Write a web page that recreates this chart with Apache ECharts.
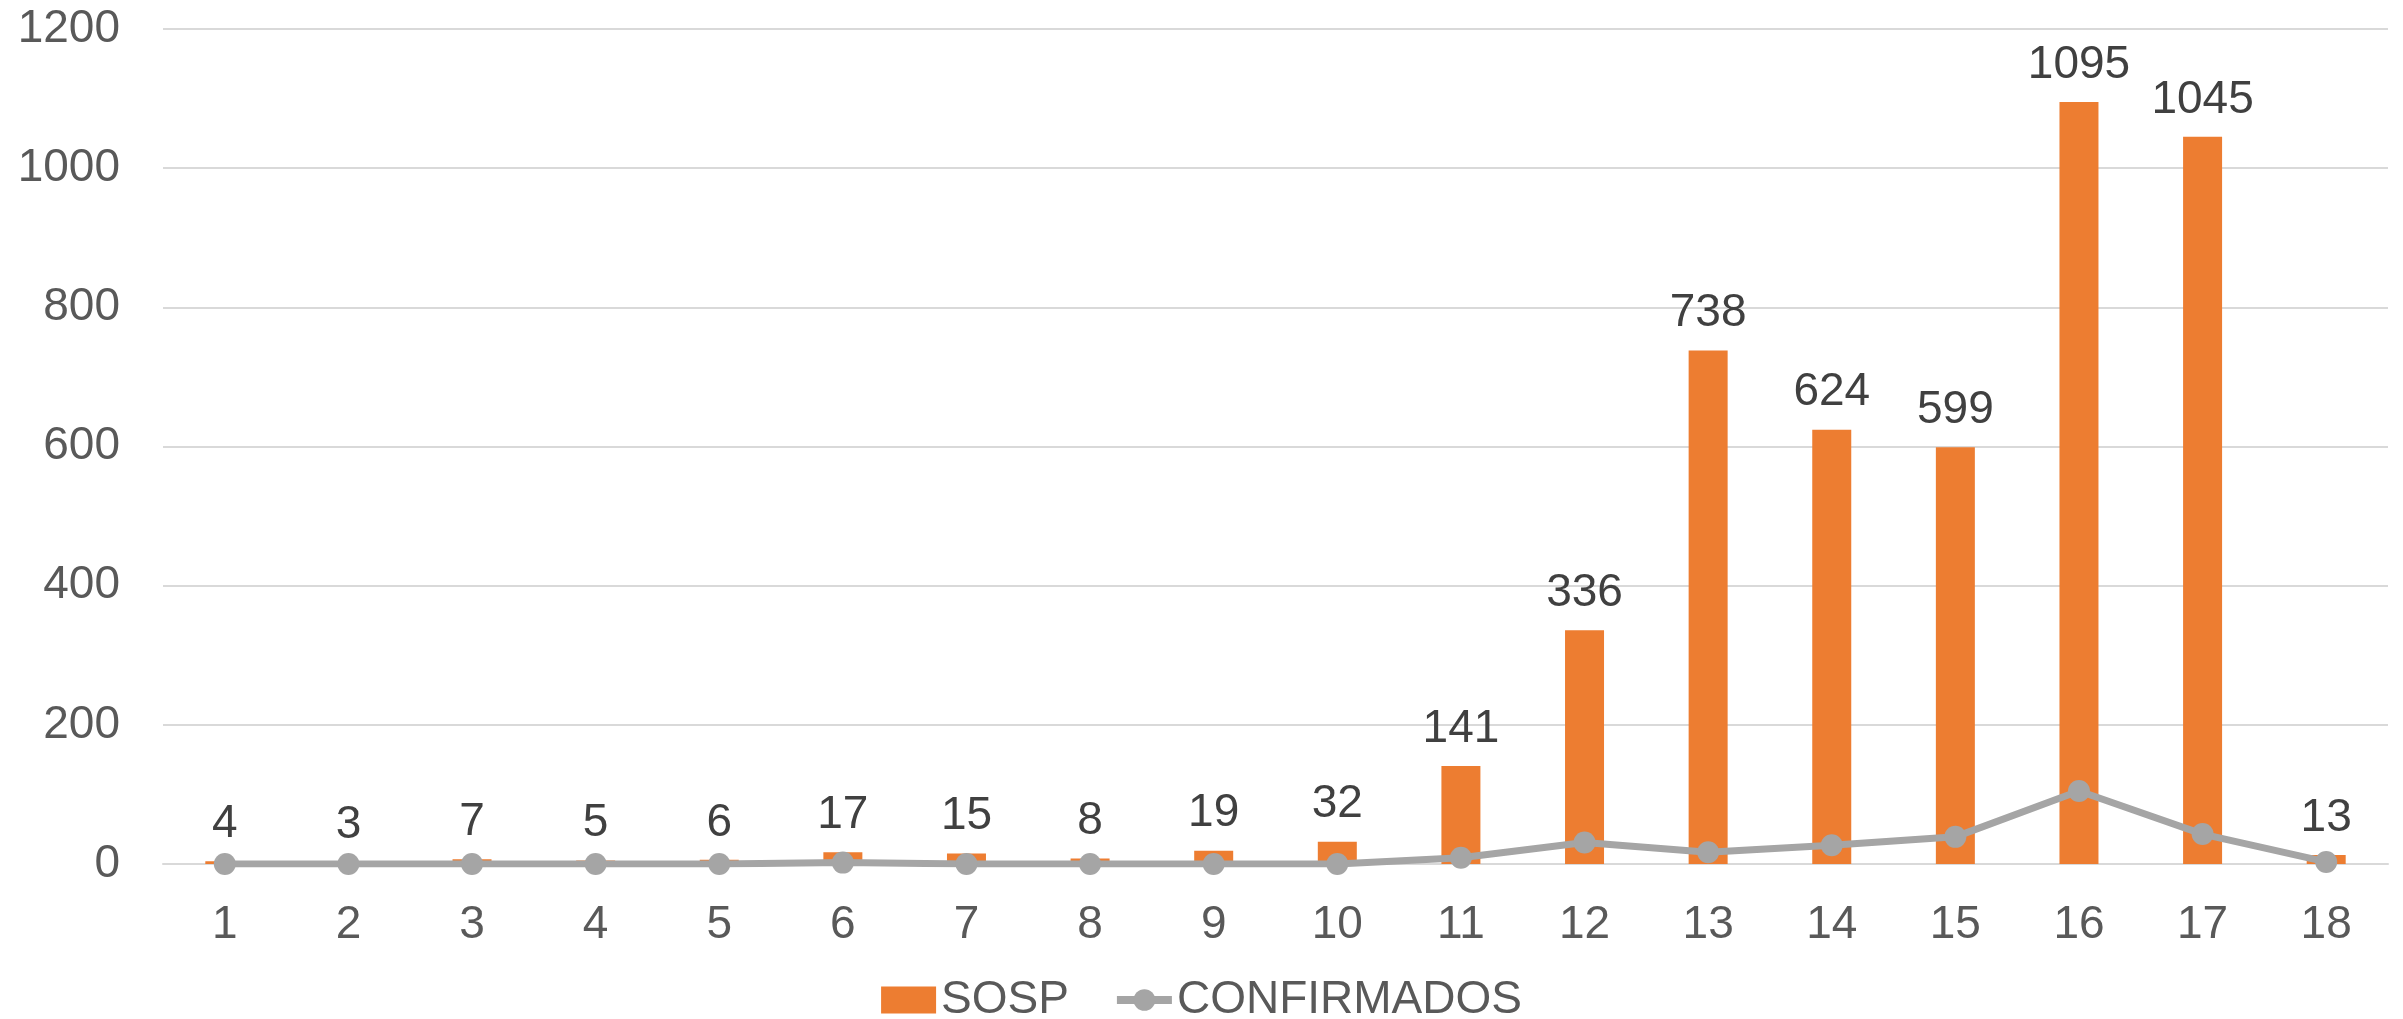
<!DOCTYPE html>
<html>
<head>
<meta charset="utf-8">
<script src="https://cdn.jsdelivr.net/npm/echarts@6/dist/echarts.min.js"></script>
<style>
  html, body { margin: 0; padding: 0; background: #fff; }
  #chart { width: 2403px; height: 1019px; }
</style>
</head>
<body>
<div id="chart"></div>
<script>
const categories = ["1", "2", "3", "4", "5", "6", "7", "8", "9", "10", "11", "12", "13", "14", "15", "16", "17", "18"];
const sospValues = [4, 3, 7, 5, 6, 17, 15, 8, 19, 32, 141, 336, 738, 624, 599, 1095, 1045, 13];
const confirmadosValues = [0, 0, 0, 0, 0, 2, 0, 0, 0, 0, 9, 31, 17, 27, 39, 105, 43, 3];

const chart = echarts.init(document.getElementById("chart"));

const font = "'Liberation Sans', Arial, sans-serif";

chart.setOption({
  animation: false,
  textStyle: { fontFamily: font },
  grid: {
    left: 163,
    right: 15,
    top: 29,
    bottom: 155,
    containLabel: false,
    outerBoundsMode: "none",
  },
  legend: {
    top: 972,
    left: "center",
    itemGap: 44,
    itemWidth: 55,
    itemHeight: 27,
    textStyle: { fontSize: 46, color: "#595959", fontFamily: font },
    data: [
      { name: "SOSP", icon: "rect", itemStyle: { color: "#ED7D31" } },
      { name: "CONFIRMADOS", lineStyle: { width: 8, color: "#A5A5A5" } },
    ],
  },
  xAxis: {
    type: "category",
    data: categories,
    axisLine: { lineStyle: { color: "#D9D9D9", width: 2 } },
    axisTick: { show: false },
    axisLabel: { fontSize: 46, color: "#595959", margin: 38 },
  },
  yAxis: {
    type: "value",
    min: 0,
    max: 1200,
    interval: 200,
    axisLine: { show: false },
    axisTick: { show: false },
    axisLabel: {
      fontSize: 46,
      color: "#595959",
      margin: 43,
      formatter: (v) => String(v),
    },
    splitLine: { lineStyle: { color: "#D9D9D9", width: 2 } },
  },
  series: [
    {
      name: "SOSP",
      type: "bar",
      data: sospValues,
      barWidth: 39,
      itemStyle: { color: "#ED7D31" },
      label: {
        show: true,
        position: "top",
        distance: 14,
        fontSize: 46,
        color: "#404040",
      },
    },
    {
      name: "CONFIRMADOS",
      type: "line",
      data: confirmadosValues,
      symbol: "circle",
      symbolSize: 22,
      lineStyle: { color: "#A5A5A5", width: 7 },
      itemStyle: { color: "#A5A5A5" },
    },
  ],
});
</script>
</body>
</html>
